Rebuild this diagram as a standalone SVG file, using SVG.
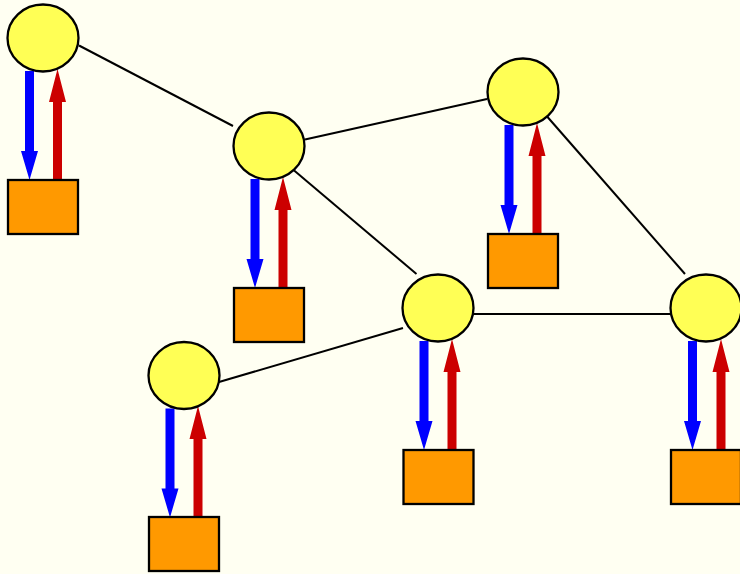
<svg xmlns="http://www.w3.org/2000/svg" xmlns:xlink="http://www.w3.org/1999/xlink" width="740" height="574" viewBox="0 0 740 574">
<style>
.n{fill:#ffff55;stroke:#000;stroke-width:2.3}
.b{fill:#ff9900;stroke:#000;stroke-width:2.3}
.e{stroke:#000;stroke-width:2;fill:none}
</style>
<defs>
<path id="down" d="M-4.5,0 H4.5 V80 H8.5 L0,109 L-8.5,80 H-4.5 Z" fill="#0000ff"/>
<path id="up" d="M-4.5,0 H4.5 V-78 H8.5 L0,-111 L-8.5,-78 H-4.5 Z" fill="#cc0000"/>
</defs>
<rect width="740" height="574" fill="#fffff2"/>
<g id="connectors">
<line class="e" x1="79" y1="45.5" x2="233" y2="126"/>
<line class="e" x1="305" y1="139.5" x2="487" y2="99"/>
<line class="e" x1="544" y1="113" x2="685" y2="274"/>
<line class="e" x1="290" y1="167" x2="416.5" y2="274"/>
<line class="e" x1="473" y1="314" x2="671" y2="314"/>
<line class="e" x1="219" y1="382" x2="403" y2="328"/>
<use xlink:href="#down" x="29.5" y="71"/>
<use xlink:href="#up" x="57.5" y="180"/>
<use xlink:href="#down" x="255" y="179"/>
<use xlink:href="#up" x="283" y="288"/>
<use xlink:href="#down" x="509" y="125"/>
<use xlink:href="#up" x="537" y="234"/>
<use xlink:href="#down" x="424" y="341"/>
<use xlink:href="#up" x="452" y="450"/>
<use xlink:href="#down" x="692.5" y="341"/>
<use xlink:href="#up" x="721" y="450"/>
<use xlink:href="#down" x="170" y="408.5"/>
<use xlink:href="#up" x="198" y="517"/>
</g>
<g id="n1"><ellipse class="n" cx="43" cy="38" rx="35.5" ry="33.5"/><rect class="b" x="8" y="180" width="70" height="54"/></g>
<g id="n2"><ellipse class="n" cx="269" cy="146" rx="35.5" ry="33.5"/><rect class="b" x="234" y="288" width="70" height="54"/></g>
<g id="n3"><ellipse class="n" cx="523" cy="92" rx="35.5" ry="33.5"/><rect class="b" x="488" y="234" width="70" height="54"/></g>
<g id="n4"><ellipse class="n" cx="438" cy="308" rx="35.5" ry="33.5"/><rect class="b" x="403.5" y="450" width="70" height="54"/></g>
<g id="n5"><ellipse class="n" cx="706" cy="308" rx="35.5" ry="33.5"/><rect class="b" x="671" y="450" width="70" height="54"/></g>
<g id="n6"><ellipse class="n" cx="184" cy="375.5" rx="35.5" ry="33.5"/><rect class="b" x="149" y="517" width="70" height="54"/></g>
</svg>
